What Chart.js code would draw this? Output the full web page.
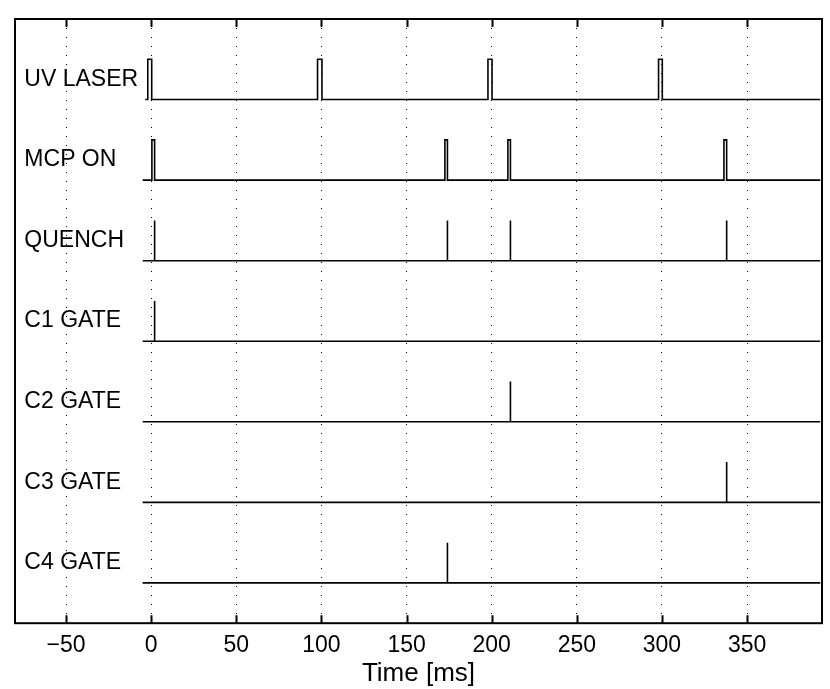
<!DOCTYPE html>
<html>
<head>
<meta charset="utf-8">
<script src="https://cdn.jsdelivr.net/npm/chart.js@4/dist/chart.umd.min.js"></script>
<style>
html,body{margin:0;padding:0;background:#fff;}
#wrap{width:830px;height:689px;}
</style>
</head>
<body>
<div id="wrap"><canvas id="timing" width="830" height="689"></canvas></div>
<script>
// timing diagram data (ms)
const channels=["UV LASER","MCP ON","QUENCH","C1 GATE","C2 GATE","C3 GATE","C4 GATE"];
const baseLevels=[6.5,5.5,4.5,3.5,2.5,1.5,0.5];
const pulseStarts=[[-2,97.7,197.8,298],[0.4,172.5,209.5,336.4],[2,174,211,338],[2],[211],[338],[174]];
const pulseEnds=[[0.3,100.3,200.2,300.2],[2,174,211,338],[2,174,211,338],[2],[211],[338],[174]];
const traceStarts=[-3.5,-5,-5,-5,-5,-5,-5];
const traceEnd=393;
const pulseHeight=0.5;
const xTicks=[-50,0,50,100,150,200,250,300,350];

const FONT="'Liberation Sans', Arial, Helvetica, sans-serif";

function buildTrace(i){
const b=baseLevels[i];
const pts=[{x:traceStarts[i],y:b}];
pulseStarts[i].forEach((s,k)=>{
const e=pulseEnds[i][k];
pts.push({x:s,y:b});
pts.push({x:s,y:b+pulseHeight});
pts.push({x:e,y:b+pulseHeight});
pts.push({x:e,y:b});
});
pts.push({x:traceEnd,y:b});
return pts;
}

const framePlugin={
id:"frame",
afterDraw(chart){
const ctx=chart.ctx;
const a=chart.chartArea;
const xs=chart.scales.x;
const ys=chart.scales.y;
ctx.save();
// inward tick marks top and bottom
ctx.strokeStyle="#000";
ctx.lineWidth=2;
xTicks.forEach(v=>{
const px=Math.round(xs.getPixelForValue(v))+0.5;
ctx.beginPath();
ctx.moveTo(px,a.bottom);ctx.lineTo(px,a.bottom-8);
ctx.moveTo(px,a.top);ctx.lineTo(px,a.top+8);
ctx.stroke();
});
// box
ctx.lineWidth=2;
ctx.strokeRect(a.left,a.top,a.right-a.left,a.bottom-a.top);
// channel names
ctx.fillStyle="#000";
ctx.font="23px "+FONT;
ctx.textAlign="left";
ctx.textBaseline="middle";
channels.forEach((name,i)=>{
ctx.fillText(name,xs.getPixelForValue(-74.5),ys.getPixelForValue(baseLevels[i]+pulseHeight/2));
});
ctx.restore();
}
};

new Chart(document.getElementById("timing"),{
type:"line",
data:{
datasets:channels.map((name,i)=>({
label:name,
data:buildTrace(i),
borderColor:"#000",
borderWidth:1.6,
pointRadius:0,
tension:0,
fill:false
}))
},
options:{
responsive:false,
animation:false,
layout:{padding:{left:15,right:8,top:19,bottom:0}},
plugins:{legend:{display:false},tooltip:{enabled:false}},
scales:{
x:{
type:"linear",
min:-80,
max:394,
afterBuildTicks:axis=>{axis.ticks=xTicks.map(v=>({value:v}));},
grid:{color:"#000",lineWidth:1,drawTicks:false},
border:{display:false,dash:[1,8]},
ticks:{
padding:9,
color:"#000",
font:{family:FONT,size:23},
maxRotation:0,
callback:v=>v<0?"\u2212"+Math.abs(v):String(v)
},
title:{
display:true,
text:"Time [ms]",
color:"#000",
font:{family:FONT,size:26},
padding:{top:-11,bottom:0}
}
},
y:{
type:"linear",
min:0,
max:7.5,
display:false
}
}
},
plugins:[framePlugin]
});
</script>
</body>
</html>
